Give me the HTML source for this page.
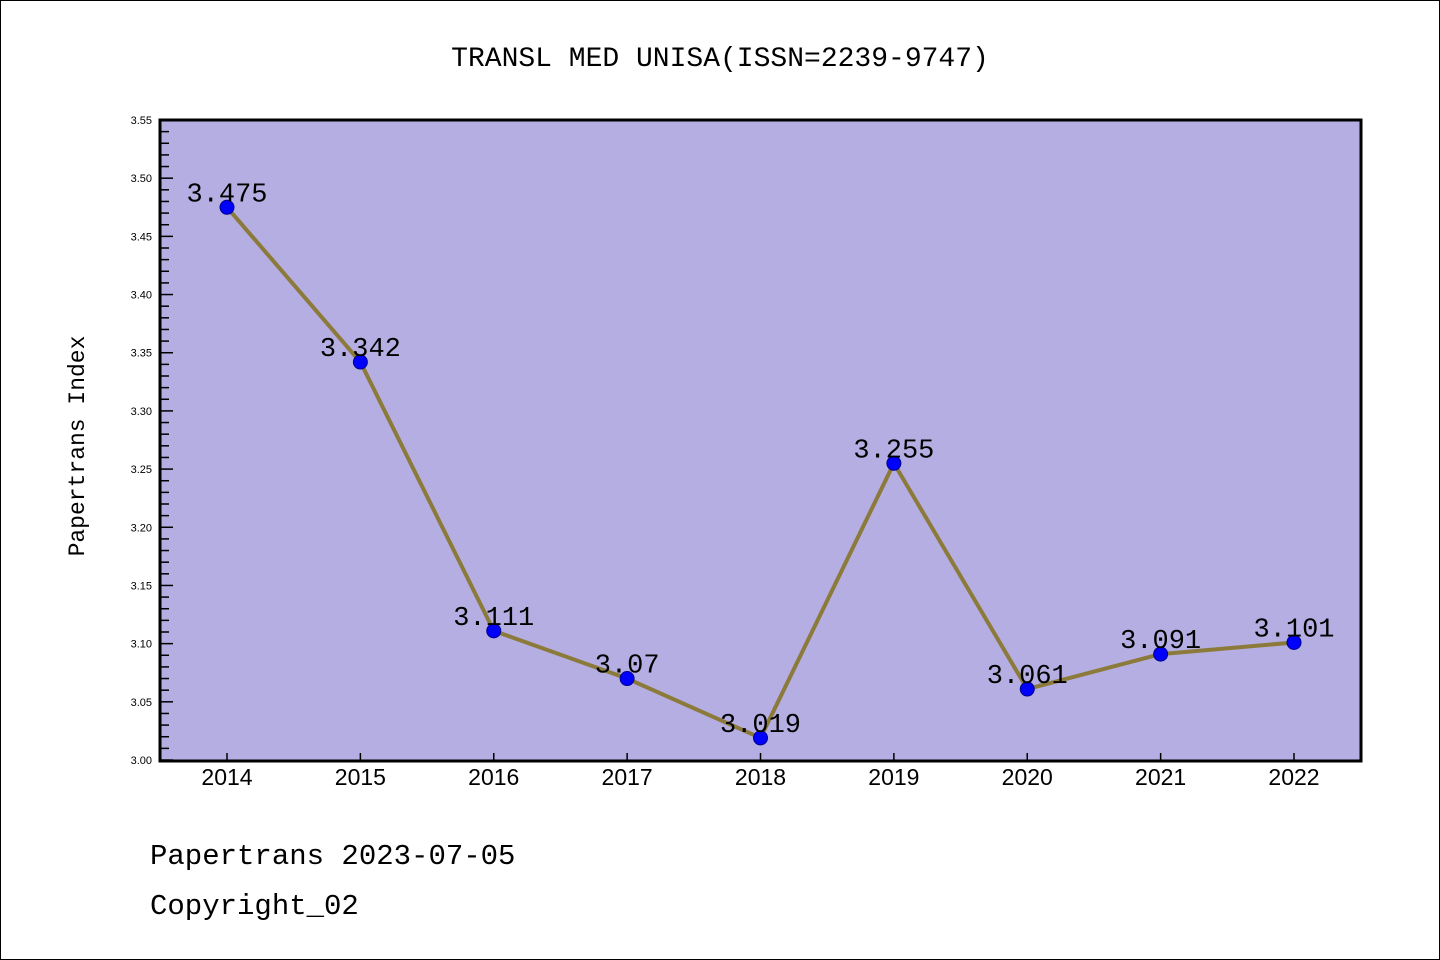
<!DOCTYPE html>
<html><head><meta charset="utf-8"><style>
html,body{margin:0;padding:0;background:#fff}
svg{display:block}
</style></head><body>
<svg id="chart" width="1440" height="960" xmlns="http://www.w3.org/2000/svg">
<rect x="0.5" y="0.5" width="1439" height="959" fill="#fff" stroke="#000"/>
<text x="720" y="66" text-anchor="middle" font-size="28" font-family="Liberation Mono, monospace">TRANSL MED UNISA(ISSN=2239-9747)</text>
<rect x="160" y="120" width="1201" height="641" fill="#b5aee2"/>
<g id="yaxis" font-family="Liberation Sans, sans-serif"></g>
<g id="xaxis" font-family="Liberation Sans, sans-serif"></g>
<g id="series" font-family="Liberation Mono, monospace"></g>
<rect x="160" y="120" width="1201" height="641" fill="none" stroke="#000" stroke-width="3"/>
<text transform="translate(84,446) rotate(-90)" text-anchor="middle" font-size="23" font-family="Liberation Mono, monospace">Papertrans Index</text>
<text x="150" y="864" font-size="29" font-family="Liberation Mono, monospace">Papertrans 2023-07-05</text>
<text x="150" y="914" font-size="29" font-family="Liberation Mono, monospace">Copyright_02</text>
</svg>
<script>
const years = ["2014","2015","2016","2017","2018","2019","2020","2021","2022"];
const values = [3.475,3.342,3.111,3.07,3.019,3.255,3.061,3.091,3.101];
const labels = ["3.475","3.342","3.111","3.07","3.019","3.255","3.061","3.091","3.101"];
const yTicks = ["3.00","3.05","3.10","3.15","3.20","3.25","3.30","3.35","3.40","3.45","3.50","3.55"];
const NS="http://www.w3.org/2000/svg";
const yMin=3.0,yMax=3.55,yTop=120,yBot=760,xLeft=160;
const ys=v=>yBot-(v-yMin)/(yMax-yMin)*(yBot-yTop);
const xs=i=>227+i*(1294-227)/(years.length-1);
function mk(tag,attrs,parent){const e=document.createElementNS(NS,tag);for(const k in attrs)e.setAttribute(k,attrs[k]);parent.appendChild(e);return e;}
const ya=document.getElementById('yaxis'),xa=document.getElementById('xaxis'),sr=document.getElementById('series');
yTicks.forEach((t,i)=>{
  const v=parseFloat(t),yy=ys(v);
  const l=mk('line',{x1:xLeft,x2:xLeft+13,y1:yy,y2:yy,stroke:'#000','stroke-width':1.5},ya);
  
  
  const tx=mk('text',{x:152,y:yy+4,'text-anchor':'end','font-size':11},ya);
  tx.textContent=t;
  
  
  if(i<yTicks.length-1){
    for(let m=1;m<5;m++){
      const my=ys(v+m*0.01);
      const ml=mk('line',{x1:xLeft,x2:xLeft+9,y1:my,y2:my,stroke:'#000','stroke-width':1.5},ya);
      
      
    }
  }
});
years.forEach((yr,i)=>{
  const l=mk('line',{x1:xs(i),x2:xs(i),y1:761,y2:753,stroke:'#000','stroke-width':1.5},xa);
  
  
  const t=mk('text',{x:xs(i),y:785,'text-anchor':'middle','font-size':23},xa);
  t.textContent=yr;
  
  
});
const pts=values.map((v,i)=>xs(i)+','+ys(v)).join(' ');
const pl=mk('polyline',{points:pts,fill:'none',stroke:'#8b7a3a','stroke-width':4,'stroke-linejoin':'round'},sr);


values.forEach((v,i)=>{
  const c=mk('circle',{cx:xs(i),cy:ys(v),r:7,fill:'#0000ff',stroke:'#00008b','stroke-width':1},sr);
  
  
  const t=mk('text',{x:xs(i),y:ys(v)-6,'text-anchor':'middle','font-size':27},sr);
  t.textContent=labels[i];
  
  
});
</script>
</body></html>
